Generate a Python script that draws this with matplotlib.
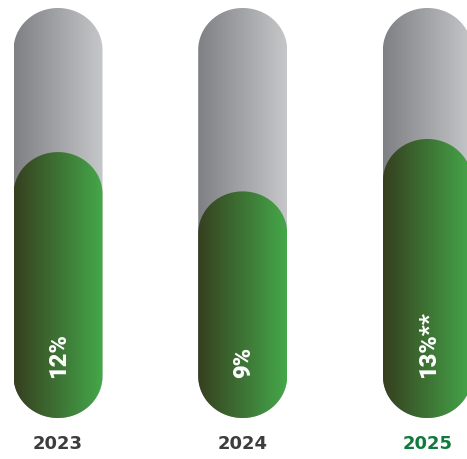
import numpy as np
import matplotlib.pyplot as plt
from matplotlib.patches import Polygon
from matplotlib.colors import to_rgb

# Daten
years = ['2023', '2024', '2025']
values = [12, 9, 13]
labels = ['12%', '9%', '13%**']
track_max = 23.0
baseline = -8.3

year_colors = ['#3d3d3f', '#3d3d3f', '#0f7a3c']
gray_left, gray_right = '#7f8084', '#c6c7c9'
green_left, green_right = '#363f1f', '#45a84a'

fig = plt.figure(figsize=(4.67, 4.59), dpi=100)
ax = fig.add_axes([0, 0, 1, 1])
ax.set_xlim(0, 467)
ax.set_ylim(-11.43, 23.61)
ax.axis('off')

bar_w = 89
rx = bar_w / 2
ry = 3.2      # Kappenhoehe in y-Einheiten
x_first, spacing = 58, 184.7


def pill(xc, y0, y1):
    t = np.linspace(0, np.pi, 60)
    top = np.column_stack([xc + rx * np.cos(t), y1 - ry + ry * np.sin(t)])
    bot = np.column_stack([xc - rx * np.cos(t), y0 + ry - ry * np.sin(t)])
    return np.vstack([top, bot])


def gradient_fill(xc, y0, y1, c_left, c_right, z):
    verts = pill(xc, y0, y1)
    patch = Polygon(verts, closed=True, facecolor='none', edgecolor='none')
    ax.add_patch(patch)
    a, b = np.array(to_rgb(c_left)), np.array(to_rgb(c_right))
    s = np.linspace(0, 1, 256)[:, None]
    grad = (a + (b - a) * s)[None, :, :]
    im = ax.imshow(grad, extent=[xc - rx, xc + rx, y0, y1], aspect='auto',
                   interpolation='bilinear', zorder=z)
    im.set_clip_path(patch)


for i, (yr, v, lab) in enumerate(zip(years, values, labels)):
    xc = x_first + i * spacing
    gradient_fill(xc, baseline, track_max, gray_left, gray_right, 1)
    gradient_fill(xc, baseline, v, green_left, green_right, 2)
    ax.text(xc + 1, -5.25, lab, rotation=90, rotation_mode='anchor',
            ha='left', va='center', color='white', fontsize=17,
            fontweight='black', family='Roboto', zorder=3)
    ax.text(xc, 0.033, yr, transform=ax.get_xaxis_transform(),
            ha='center', va='center', color=year_colors[i], fontsize=13,
            fontweight='bold', family='DejaVu Sans')

fig.savefig('out.png', dpi=100)
